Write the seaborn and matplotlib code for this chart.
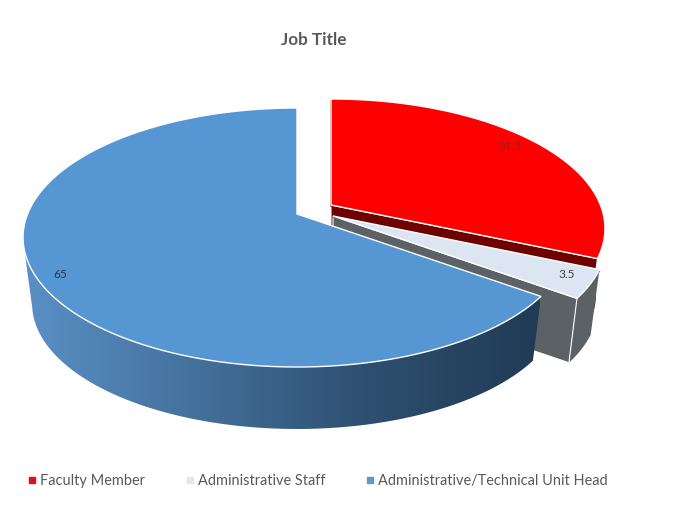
import numpy as np
import seaborn as sns
import matplotlib
matplotlib.use("Agg")
import matplotlib.pyplot as plt
from matplotlib.patches import Polygon
from matplotlib.lines import Line2D

# chart data
labels = ["Faculty Member", "Administrative Staff", "Administrative/Technical Unit Head"]
values = [31.5, 3.5, 65]

top_colors = ["#ff0000", "#dce6f2", "#5596d3"]
side_colors = ["#6e0000", "#5b6165", None]
text_colors = ["#a01c1c", "#404040", "#1f3a55"]
# how far each slice is pulled out of the pie, pixels
pull = [(34, -9), (36, 2), (0, 0)]
label_pos = [(510, 146), (567, 275), (60, 274)]

# fake 3d: perspective of the top disc + extrusion towards a vanishing point
CX, CY = 297, 214
R = 269.4
FY = 86.4
PERSP = -0.1815
DEPTH_SCALE = 0.967
VANISH_Y = 2245


def top_xy(theta):
    u, v = np.sin(theta), -np.cos(theta)
    den = 1 + PERSP * v
    return CX + R * u / den, (CY + FY * v) / den


def bottom_of(x, y):
    return CX + DEPTH_SCALE * (x - CX), VANISH_Y + DEPTH_SCALE * (y - VANISH_Y)


def rim(start, end):
    th = np.linspace(start, end, 200)
    return top_xy(th)


sns.set_theme(style="white")
plt.rcParams["font.family"] = ["Lato", "DejaVu Sans"]

fig = plt.figure(figsize=(7, 5.3), dpi=100)
ax = fig.add_axes([0, 0, 1, 1])
ax.set_axis_off()
ax.set_xlim(0, 700)
ax.set_ylim(530, 0)

cuts = np.deg2rad(np.concatenate([[0], np.cumsum(values)]) * 3.6)

# back slices first, blue goes on top of them
for i in [0, 1, 2]:
    a, b = cuts[i], cuts[i + 1]
    dx, dy = pull[i]
    rx, ry = rim(a, b)
    # wall stops at the left edge of the disc (about 258 deg), the rest is hidden anyway
    wx, wy = rim(a, min(b, np.deg2rad(258)))
    bx, by = bottom_of(wx, wy)
    side = np.column_stack([np.r_[wx, bx[::-1]] + dx, np.r_[wy, by[::-1]] + dy])

    if i == 2:
        # curved wall has a left to right shade
        patch = Polygon(side, closed=True, fc="none", ec="none", transform=ax.transData)
        ax.add_patch(patch)
        shade = sns.blend_palette(["#5b91c7", "#44719c", "#2e4f70", "#203b55"], as_cmap=True)
        img = ax.imshow(np.linspace(0, 1, 256)[None, :], cmap=shade, extent=(20, 540, 440, 230),
                        aspect="auto", zorder=2)
        img.set_clip_path(patch)
    else:
        # cut face along the end of the slice
        ex, ey = top_xy(b)
        ax0, ay0 = bottom_of(CX, CY)
        bex, bey = bottom_of(ex, ey)
        cut = [(CX + dx, CY + dy), (ex + dx, ey + dy), (bex + dx, bey + dy), (ax0 + dx, ay0 + dy)]
        ax.add_patch(Polygon(side, closed=True, fc=side_colors[i], ec="none", zorder=2))
        ax.add_patch(Polygon(cut, closed=True, fc=side_colors[i], ec="white", lw=0.8, zorder=2))
        # start edge shows as a thin dark sliver
        ax.plot([CX + dx, top_xy(a)[0] + dx], [CY + dy + 1, top_xy(a)[1] + dy + 2],
                color=side_colors[i], lw=1.2, zorder=2)

    top = np.column_stack([np.r_[CX, rx] + dx, np.r_[CY, ry] + dy])
    ax.add_patch(Polygon(top, closed=True, fc=top_colors[i], ec="white", lw=1.0, zorder=3))

ax.set_xlim(0, 700)
ax.set_ylim(530, 0)

for val, pos, col in zip(values, label_pos, text_colors):
    ax.text(pos[0], pos[1], f"{val:g}", color=col, fontsize=8.5, ha="center", va="center", zorder=5)

ax.text(314, 40, "Job Title", color="#595959", fontsize=12.3, fontweight="bold", ha="center", va="center")

handles = [Line2D([], [], ls="", marker="s", ms=4.5, color=c) for c in ["#d8131a", "#dfe8f0", "#5f9bc6"]]
ax.legend(handles, labels, loc="center left", bbox_to_anchor=(27 / 700, 1 - 481 / 530), ncol=3, frameon=False,
          fontsize=10.45, labelcolor="#595959", handlelength=0.7, handletextpad=0.2, columnspacing=2.75,
          borderpad=0, borderaxespad=0)

fig.savefig("out.png", dpi=100, facecolor="white")
